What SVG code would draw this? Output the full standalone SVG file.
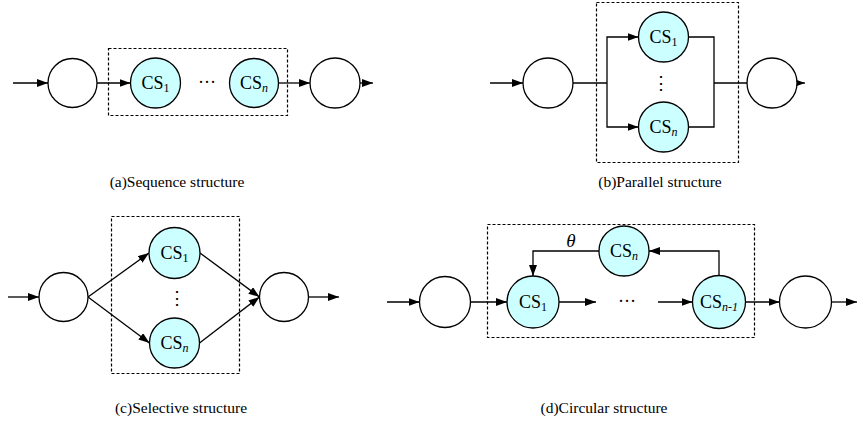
<svg xmlns="http://www.w3.org/2000/svg" width="857" height="426" viewBox="0 0 857 426">
<style>
.n{fill:#fff;stroke:#000;stroke-width:1.3}
.cs{fill:#ccffff;stroke:#000;stroke-width:1.3}
.box{fill:none;stroke:#000;stroke-width:1.2;stroke-dasharray:3,2}
.e{fill:none;stroke:#000;stroke-width:1.3}
.a{marker-end:url(#ah)}
text{font-family:'Liberation Serif','Times New Roman','DejaVu Serif',serif;fill:#000}
.t{font-size:18px;text-anchor:middle}
.sub{font-size:12px}
.it{font-style:italic}
.cap{font-size:15.5px;text-anchor:middle}
</style>
<defs>
<marker id="ah" markerUnits="userSpaceOnUse" markerWidth="11" markerHeight="8" refX="11" refY="4" orient="auto"><path d="M0,0 L11,4 L0,8 z" fill="#000"/></marker>
</defs>
<g id="boxes">
<rect class="box" x="108.5" y="48.5" width="179" height="67"/>
<rect class="box" x="596.5" y="2.5" width="142" height="160"/>
<rect class="box" x="111.5" y="216.5" width="128" height="157"/>
<rect class="box" x="487.5" y="224.5" width="267" height="113"/>
</g>
<g id="connectors">
<line class="e a" x1="13" y1="83" x2="48" y2="83"/>
<line class="e a" x1="97" y1="83" x2="130.5" y2="83"/>
<line class="e a" x1="278.5" y1="83" x2="310" y2="83"/>
<line class="e a" x1="360" y1="83" x2="373" y2="83"/>
<line class="e a" x1="490" y1="83" x2="523" y2="83"/>
<polyline class="e" points="573,83 607,83"/>
<polyline class="e a" points="607,83 607,37 638.5,37"/>
<polyline class="e a" points="607,83 607,127 638.5,127"/>
<polyline class="e" points="688.5,37 714,37 714,127 688.5,127"/>
<line class="e" x1="714" y1="83" x2="747" y2="83"/>
<line class="e a" x1="797" y1="83" x2="805" y2="83"/>
<line class="e a" x1="8" y1="297" x2="39" y2="297"/>
<line class="e a" x1="88" y1="297" x2="149" y2="253"/>
<line class="e a" x1="88" y1="297" x2="149.5" y2="343"/>
<line class="e a" x1="200" y1="253" x2="259.5" y2="297"/>
<line class="e a" x1="199.5" y1="343" x2="259.5" y2="297"/>
<line class="e a" x1="308.5" y1="297" x2="339" y2="297"/>
<line class="e a" x1="387" y1="302" x2="419.5" y2="302"/>
<line class="e a" x1="470.5" y1="302" x2="507" y2="302"/>
<line class="e a" x1="559" y1="302" x2="596" y2="302"/>
<line class="e a" x1="658" y1="302" x2="692.5" y2="302"/>
<line class="e a" x1="745.5" y1="302" x2="779.5" y2="302"/>
<line class="e a" x1="831.5" y1="302" x2="857" y2="302"/>
<polyline class="e a" points="719,275.5 719,251 649,251"/>
<polyline class="e a" points="599,251 533,251 533,276"/>
</g>
<g id="a-in"><circle class="n" cx="72.5" cy="83" r="24.5"/></g>
<g id="a-cs1"><circle class="cs" cx="155.5" cy="83" r="25"/><text class="t" x="155.5" y="89">CS<tspan class="sub" dy="3">1</tspan></text></g>
<g id="a-dots"><text class="t" x="207" y="88">···</text></g>
<g id="a-csn"><circle class="cs" cx="254" cy="83" r="24.5"/><text class="t" x="254" y="89">CS<tspan class="sub it" dy="3">n</tspan></text></g>
<g id="a-out"><circle class="n" cx="335" cy="83" r="25"/></g>
<g id="b-in"><circle class="n" cx="548" cy="83" r="25"/></g>
<g id="b-cs1"><circle class="cs" cx="663.5" cy="37" r="25"/><text class="t" x="663.5" y="43">CS<tspan class="sub" dy="3">1</tspan></text></g>
<g id="b-dots"><text class="t" x="661" y="89">⋮</text></g>
<g id="b-csn"><circle class="cs" cx="663.5" cy="127" r="25"/><text class="t" x="663.5" y="133">CS<tspan class="sub it" dy="3">n</tspan></text></g>
<g id="b-out"><circle class="n" cx="772" cy="83" r="25"/></g>
<g id="c-in"><circle class="n" cx="63.5" cy="297" r="24.5"/></g>
<g id="c-cs1"><circle class="cs" cx="174.5" cy="253" r="25.5"/><text class="t" x="174.5" y="259">CS<tspan class="sub" dy="3">1</tspan></text></g>
<g id="c-dots"><text class="t" x="177" y="304">⋮</text></g>
<g id="c-csn"><circle class="cs" cx="174.5" cy="343" r="25"/><text class="t" x="174.5" y="349">CS<tspan class="sub it" dy="3">n</tspan></text></g>
<g id="c-out"><circle class="n" cx="284" cy="297" r="24.5"/></g>
<g id="d-in"><circle class="n" cx="445" cy="302" r="25.5"/></g>
<g id="d-cs1"><circle class="cs" cx="533" cy="302" r="26"/><text class="t" x="533" y="308">CS<tspan class="sub" dy="3">1</tspan></text></g>
<g id="d-dots"><text class="t" x="627" y="307">···</text></g>
<g id="d-csn1"><circle class="cs" cx="719" cy="302" r="26.5"/><text class="t" x="719" y="308">CS<tspan class="sub it" dy="3">n-1</tspan></text></g>
<g id="d-out"><circle class="n" cx="805.5" cy="302" r="26"/></g>
<g id="d-csn"><circle class="cs" cx="624" cy="251" r="25"/><text class="t" x="624" y="257">CS<tspan class="sub it" dy="3">n</tspan></text></g>
<g id="d-theta"><text class="t it" x="571" y="247" style="font-size:19px">θ</text></g>
<g id="captions">
<text class="cap" x="177" y="187">(a)Sequence structure</text>
<text class="cap" x="660" y="187">(b)Parallel structure</text>
<text class="cap" x="181" y="413">(c)Selective structure</text>
<text class="cap" x="604" y="413">(d)Circular structure</text>
</g>
</svg>
